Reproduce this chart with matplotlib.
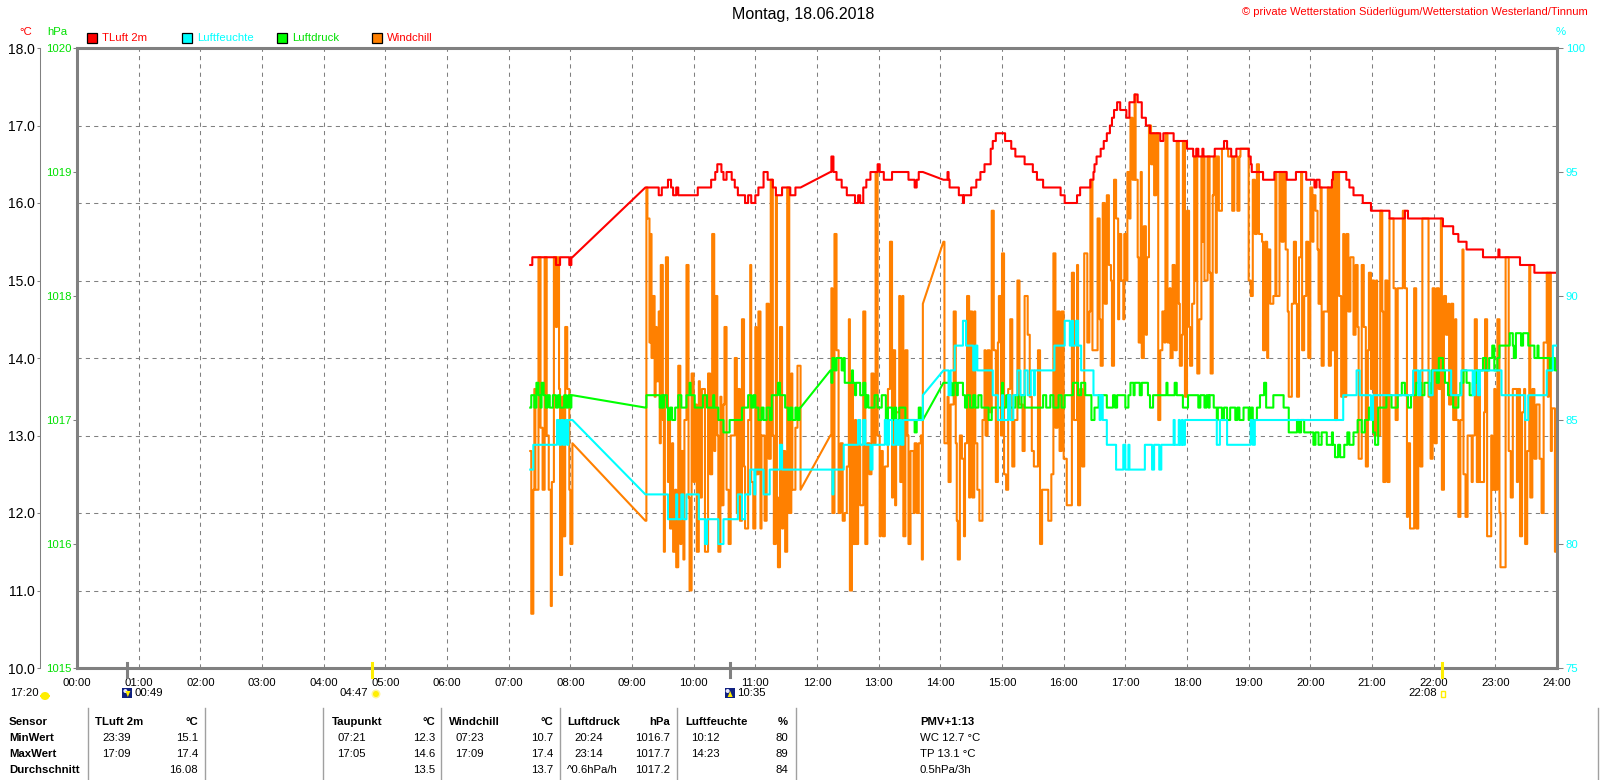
import matplotlib
matplotlib.use('Agg')
import matplotlib.pyplot as plt
from matplotlib.patches import Rectangle, Ellipse, Polygon
from matplotlib.lines import Line2D

# ---------------- data (minutes since midnight, value) ----------------
temp = [(441,15.2),(443,15.3),(466,15.2),(470,15.3),(479,15.2),(481,15.3),(482,15.3),
(553,16.2),(566,16.1),(569,16.2),(575,16.3),(578,16.2),(580,16.1),(583,16.2),(585,16.1),(604,16.2),(617,16.3),(621,16.4),(623,16.5),(627,16.4),(629,16.3),(632,16.4),(637,16.3),(640,16.2),(643,16.1),(650,16.0),(653,16.1),(656,16.0),(660,16.1),(663,16.2),(668,16.4),(672,16.3),(677,16.2),(680,16.1),(686,16.2),(694,16.1),(699,16.2),(704,16.2),
(733,16.4),(734,16.6),(736,16.4),(739,16.3),(744,16.2),(749,16.1),(757,16.0),(760,16.1),(762,16.0),(765,16.2),(768,16.3),(772,16.4),(779,16.5),(781,16.4),(785,16.3),(793,16.4),(809,16.3),(815,16.2),(817,16.3),(819,16.4),(823,16.4),
(843,16.3),(847,16.4),(848,16.3),(849,16.2),(858,16.1),(862,16.0),(863,16.1),(870,16.2),(875,16.3),(879,16.4),(883,16.5),(889,16.7),(891,16.8),(894,16.9),(903,16.8),(909,16.7),(913,16.6),(922,16.5),(930,16.4),(934,16.3),(940,16.2),(957,16.1),(961,16.0),(973,16.1),(976,16.2),(986,16.3),(989,16.4),(990,16.5),(992,16.6),(996,16.7),(999,16.8),(1002,16.9),(1005,17.0),(1007,17.1),(1009,17.2),(1012,17.3),(1015,17.2),(1021,17.1),(1024,17.3),(1029,17.4),(1032,17.3),(1036,17.1),(1040,17.0),(1044,16.9),(1054,16.8),(1057,16.9),(1067,16.8),(1080,16.7),(1086,16.6),(1089,16.7),(1091,16.6),(1095,16.7),(1096,16.6),(1107,16.7),(1116,16.8),(1119,16.7),(1123,16.6),(1128,16.7),(1140,16.6),(1142,16.5),(1143,16.4),(1154,16.3),(1165,16.4),(1177,16.3),(1186,16.4),(1196,16.3),(1204,16.2),(1206,16.3),(1209,16.2),(1221,16.3),(1222,16.4),(1235,16.3),(1238,16.2),(1242,16.1),(1251,16.0),(1259,15.9),(1277,15.8),(1292,15.9),(1295,15.8),(1329,15.7),(1339,15.6),(1344,15.5),(1352,15.4),(1368,15.3),(1383,15.4),(1384,15.3),(1404,15.2),(1418,15.1)]

windchill = [(441,12.8),(442,10.7),(444,12.3),(445,13.6),(446,12.3),(449,15.3),(451,13.1),(453,12.3),(455,15.3),(457,13.0),(459,12.3),(461,10.8),(462,12.4),(464,15.3),(466,14.4),(467,15.3),(469,13.6),(470,11.2),(472,13.5),(473,11.7),(475,14.4),(477,13.6),(479,12.3),(480,11.6),(482,12.9),
(553,11.9),(554,16.2),(555,15.8),(557,14.2),(558,15.6),(559,14.0),(560,14.8),(562,13.5),(563,14.4),(564,13.7),(566,14.6),(567,12.9),(568,15.2),(570,13.2),(571,11.5),(572,13.5),(573,15.3),(575,12.4),(576,13.2),(577,11.8),(579,12.9),(580,11.5),(582,12.3),(583,11.3),(585,13.9),(587,11.6),(588,12.8),(590,11.4),(591,13.2),(593,15.2),(595,12.2),(596,11.0),(598,13.8),(600,12.4),(601,13.4),(603,11.5),(605,13.7),(606,12.2),(608,13.6),(611,11.5),(614,13.8),(616,12.5),(618,15.6),(620,12.8),(621,14.8),(623,13.0),(624,11.5),(626,13.5),(627,12.1),(629,13.4),(630,14.4),(632,12.3),(634,11.6),(636,13.0),(640,14.0),(642,12.0),(643,13.6),(645,11.9),(647,14.5),(649,12.6),(650,11.8),(653,13.2),(655,15.2),(656,12.4),(658,11.8),(660,14.4),(661,12.5),(663,14.6),(665,11.8),(666,13.0),(669,11.9),(671,14.7),(673,12.7),(675,16.3),(677,13.0),(678,11.6),(680,16.1),(681,12.2),(682,11.3),(684,14.4),(686,11.8),(687,12.8),(689,11.5),(691,16.2),(693,12.0),(695,13.8),(696,12.3),(699,13.1),(701,13.9),(704,12.3),
(733,13.0),(734,14.9),(735,12.0),(737,15.6),(739,14.1),(741,12.0),(743,12.9),(745,11.9),(747,12.0),(749,12.6),(751,14.5),(752,11.0),(754,13.8),(755,11.6),(757,13.2),(758,11.6),(760,12.9),(762,12.1),(765,14.6),(767,11.6),(769,12.9),(771,12.5),(773,13.8),(775,12.9),(777,16.4),(779,13.0),(781,11.7),(782,12.8),(784,11.7),(786,12.6),(789,13.6),(791,15.5),(793,12.2),(794,14.1),(796,12.1),(797,13.3),(800,14.8),(801,12.4),(803,14.8),(804,11.7),(806,14.1),(808,13.0),(809,11.6),(811,12.8),(814,12.0),(815,12.9),(817,12.0),(819,12.9),(821,13.0),(822,11.4),(823,14.7),
(843,15.5),(844,12.9),(847,13.5),(848,12.4),(850,13.4),(853,14.6),(855,12.9),(856,11.9),(857,11.4),(859,13.0),(861,12.7),(863,11.7),(864,12.9),(866,14.8),(868,12.2),(869,14.6),(871,12.2),(873,14.6),(874,12.9),(876,12.3),(878,11.9),(881,13.2),(883,14.1),(884,13.0),(886,14.1),(888,13.3),(890,15.9),(892,14.1),(894,12.4),(896,14.2),(897,14.8),(899,13.0),(900,15.35),(902,12.5),(904,12.3),(906,13.6),(908,14.5),(910,12.6),(912,13.2),(915,15.0),(917,13.4),(920,12.8),(922,14.8),(925,14.3),(927,13.5),(929,12.8),(931,12.6),(935,14.1),(937,11.6),(939,12.3),(945,11.9),(948,12.5),(950,15.35),(952,13.1),(954,14.6),(956,12.8),(958,14.6),(960,12.7),(963,12.1),(968,15.1),(970,13.2),(973,15.2),(974,12.1),(976,13.6),(978,12.6),(980,15.35),(983,14.2),(985,14.6),(986,16.3),(988,14.1),
(993,15.8),(995,14.5),(996,13.9),(998,16.0),(1000,14.7),(1002,16.1),(1004,15.2),(1006,15.0),(1007,13.9),(1009,16.3),(1011,15.8),(1013,14.5),(1014,15.6),(1016,15.0),(1018,14.5),(1019,15.6),(1021,15.0),(1022,16.4),(1024,15.8),(1025,17.1),(1027,16.3),(1029,17.4),(1030,16.3),(1032,15.3),(1033,14.2),(1035,16.4),(1036,14.0),(1038,15.7),(1040,14.3),(1041,15.3),(1043,17.0),(1045,16.5),(1047,16.9),(1048,16.1),(1050,16.9),(1052,13.2),(1054,14.1),(1056,14.6),(1058,14.2),(1059,16.9),(1061,14.2),(1063,14.9),(1064,14.0),(1066,15.2),(1068,14.1),(1070,16.8),(1072,14.7),(1073,13.9),(1075,14.3),(1076,16.8),(1078,13.5),(1080,15.9),(1082,14.4),(1083,13.9),(1085,14.7),(1087,16.6),(1088,15.0),(1089,16.6),(1090,13.8),(1092,14.5),(1094,16.6),(1095,15.5),(1096,16.6),(1097,15.0),(1100,16.6),(1102,15.1),(1103,13.8),(1105,16.1),(1106,16.6),(1108,15.1),(1109,16.6),(1111,15.9),(1114,16.7),(1120,16.6),(1124,15.9),(1126,16.6),(1129,15.9),(1131,16.6),(1132,16.7),(1140,15.0),(1142,14.8),(1144,16.3),(1146,15.6),(1148,16.5),(1150,15.6),(1153,15.5),(1154,14.1),(1156,15.5),(1158,14.0),(1159,15.4),(1161,14.7),(1164,14.8),(1166,16.4),(1167,14.8),(1170,16.4),(1172,15.5),(1174,16.4),(1176,15.4),(1178,14.6),(1179,13.5),(1182,14.7),
(1184,15.5),(1186,14.7),(1187,13.5),(1189,15.3),(1191,16.4),(1192,14.1),(1194,14.8),(1196,15.5),(1198,14.0),(1200,16.2),(1202,15.5),(1203,16.1),(1205,15.9),(1207,15.4),(1208,14.7),(1210,16.2),(1211,13.9),(1213,14.6),(1217,16.2),(1218,13.9),(1220,16.2),(1221,14.1),(1223,16.4),(1224,13.2),(1226,16.4),(1228,14.8),(1230,13.5),(1232,15.6),(1233,13.5),(1235,15.6),(1237,14.6),(1239,15.3),(1242,14.3),(1244,15.2),(1246,14.4),(1247,12.7),(1250,15.2),(1252,14.4),(1254,12.6),(1256,14.1),(1257,15.1),(1259,13.6),(1260,15.0),(1262,13.0),(1264,15.0),(1265,13.0),(1268,15.9),(1270,14.6),(1271,12.4),(1273,15.0),(1275,12.4),(1277,15.8),(1281,14.9),(1283,13.2),(1285,14.9),(1290,15.9),(1292,14.9),(1294,11.95),(1295,12.9),(1297,11.8),(1301,14.9),(1303,11.8),(1305,13.5),(1307,12.6),(1309,15.8),(1315,13.5),(1317,12.7),(1319,14.9),(1321,12.9),(1323,14.9),(1325,13.6),(1327,15.8),(1328,12.3),(1330,14.8),(1332,14.3),(1334,14.7),(1335,13.4),(1337,14.7),(1339,13.2),(1341,14.5),(1342,13.2),(1344,11.95),(1346,13.2),(1348,15.4),(1349,12.5),(1351,11.95),(1353,13.0),(1357,12.4),(1358,13.0),(1360,14.5),(1362,12.4),(1364,13.6),(1365,12.4),(1369,13.3),(1370,14.5),(1372,11.7),(1376,13.0),(1377,12.3),(1379,13.6),(1380,12.3),(1382,14.5),(1384,12.0),(1385,11.3),(1390,15.3),(1393,12.8),(1395,12.2),(1397,13.6),(1401,12.4),(1402,13.6),(1404,11.7),(1406,13.3),(1408,13.6),(1409,11.6),(1411,12.8),(1413,15.2),(1414,12.2),(1416,13.6),(1418,12.7),(1420,13.4),(1423,12.7),(1425,12.0),(1427,14.2),(1430,15.1),(1431,13.5),(1432,15.1),(1434,12.8),(1435,13.35),(1438,11.5)]

pressure = [(441,1017.1),(442,1017.2),(445,1017.1),(447,1017.3),(449,1017.2),(451,1017.1),(452,1017.3),(454,1017.2),(456,1017.1),(458,1017.2),(460,1017.1),(463,1017.2),(466,1017.1),(468,1017.2),(470,1017.1),(474,1017.2),(476,1017.1),(478,1017.2),(480,1017.1),(481,1017.2),(482,1017.2),
(553,1017.1),(554,1017.2),(567,1017.1),(569,1017.2),(570,1017.1),(571,1017.2),(574,1017.1),(575,1017.0),(577,1017.1),(579,1017.0),(582,1017.1),(585,1017.2),(588,1017.1),(593,1017.2),(596,1017.3),(597,1017.2),(601,1017.1),(609,1017.2),(613,1017.1),(619,1017.2),(620,1017.1),(624,1017.0),(629,1016.9),(635,1017.0),(647,1017.1),(653,1017.2),(656,1017.1),(658,1017.2),(660,1017.1),(663,1017.0),(666,1017.1),(668,1017.0),(671,1017.1),(674,1017.0),(676,1017.2),(682,1017.3),(684,1017.2),(689,1017.1),(692,1017.0),(694,1017.1),(696,1017.0),(699,1017.1),(701,1017.0),(703,1017.1),(704,1017.1),
(733,1017.4),(734,1017.3),(735,1017.5),(737,1017.4),(739,1017.5),(744,1017.4),(746,1017.5),(747,1017.3),(754,1017.4),(755,1017.3),(757,1017.2),(758,1017.3),(762,1017.2),(765,1017.3),(767,1017.1),(768,1017.2),(770,1017.1),(776,1017.2),(779,1017.1),(783,1017.2),(787,1017.0),(789,1017.1),(793,1017.0),(795,1017.1),(797,1017.0),(800,1017.1),(806,1017.0),(815,1016.9),(817,1017.0),(819,1017.1),(821,1017.0),(823,1017.0),
(843,1017.3),(851,1017.2),(853,1017.3),(856,1017.2),(857,1017.3),(862,1017.2),(864,1017.1),(866,1017.2),(869,1017.1),(872,1017.2),(874,1017.1),(877,1017.2),(880,1017.1),(887,1017.0),(890,1017.1),(900,1017.3),(901,1017.1),(904,1017.2),(908,1017.1),(913,1017.2),(916,1017.1),(919,1017.2),(922,1017.1),(940,1017.2),(943,1017.1),(947,1017.2),(950,1017.1),(955,1017.2),(958,1017.1),(961,1017.2),(969,1017.3),(974,1017.2),(977,1017.3),(981,1017.2),(987,1017.0),(990,1017.1),(994,1017.2),(1002,1017.1),(1008,1017.2),(1010,1017.1),(1012,1017.2),(1020,1017.1),(1023,1017.2),(1025,1017.3),(1028,1017.2),(1029,1017.3),(1034,1017.2),(1036,1017.3),(1042,1017.2),(1044,1017.1),(1047,1017.2),(1060,1017.3),(1061,1017.2),(1068,1017.3),(1070,1017.2),(1076,1017.1),(1081,1017.2),(1091,1017.1),(1093,1017.2),(1097,1017.1),(1099,1017.2),(1101,1017.1),(1102,1017.2),(1106,1017.1),(1109,1017.0),(1110,1017.1),(1114,1017.0),(1116,1017.1),(1119,1017.0),(1122,1017.1),(1127,1017.0),(1129,1017.1),(1131,1017.0),(1135,1017.1),(1140,1017.0),(1142,1017.1),(1144,1017.0),(1148,1017.1),(1151,1017.2),(1155,1017.3),(1157,1017.1),(1164,1017.2),(1174,1017.1),(1179,1016.9),(1187,1017.0),(1189,1016.9),(1191,1017.0),(1194,1016.9),(1203,1016.8),(1205,1016.9),(1208,1016.8),(1211,1016.9),(1216,1016.8),(1221,1016.9),(1222,1016.8),(1224,1016.7),(1227,1016.8),(1229,1016.7),(1233,1016.8),(1236,1016.9),(1238,1016.8),(1242,1016.9),(1246,1017.0),(1250,1016.9),(1253,1017.0),(1257,1017.1),(1261,1016.9),(1263,1016.8),(1266,1017.1),(1274,1017.2),(1279,1017.1),(1285,1017.2),(1289,1017.3),(1292,1017.2),(1295,1017.1),(1298,1017.2),(1303,1017.3),(1308,1017.2),(1311,1017.3),(1316,1017.2),(1318,1017.4),(1323,1017.3),(1325,1017.5),(1329,1017.4),(1331,1017.3),(1334,1017.2),(1339,1017.1),(1344,1017.2),(1346,1017.3),(1349,1017.4),(1352,1017.3),(1355,1017.2),(1358,1017.3),(1362,1017.4),(1368,1017.5),(1371,1017.4),(1374,1017.5),(1377,1017.6),(1379,1017.4),(1382,1017.5),(1384,1017.6),(1394,1017.7),(1397,1017.6),(1398,1017.5),(1400,1017.7),(1405,1017.6),(1407,1017.7),(1412,1017.6),(1418,1017.5),(1421,1017.6),(1422,1017.5),(1433,1017.4),(1435,1017.5),(1438,1017.4)]

humidity = [(441,83),(444,84),(467,85),(469,84),(471,85),(473,84),(475,85),(477,84),(478,85),(482,85),
(553,82),(575,81),(583,82),(584,81),(588,82),(590,81),(593,82),(605,81),(611,80),(613,81),(624,80),(629,81),(643,82),(647,81),(650,82),(655,83),(659,82),(660,83),(668,82),(674,83),(684,84),(686,83),(704,83),
(733,83),(735,82),(736,83),(746,84),(760,85),(762,84),(765,85),(767,84),(772,83),(774,84),(786,85),(788,84),(790,85),(793,84),(796,85),(798,84),(800,85),(802,84),(804,85),(823,86),
(843,87),(848,86),(850,87),(854,88),(862,89),(865,88),(872,87),(874,88),(876,87),(891,86),(896,85),(900,86),(901,85),(906,86),(908,85),(911,86),(915,87),(918,86),(922,87),(925,86),(928,87),(931,86),(932,87),(951,88),(961,89),(966,88),(968,89),(969,88),(972,89),(974,88),(977,87),(989,86),(995,85),(996,86),(998,85),(1002,84),(1011,83),(1018,84),(1020,83),(1023,84),(1024,83),(1039,84),(1046,83),(1048,84),(1053,83),(1055,84),(1067,85),(1068,84),(1072,85),(1073,84),(1075,85),(1076,84),(1078,85),(1109,84),(1112,85),(1119,84),(1142,85),(1144,84),(1146,85),(1232,86),(1245,87),(1248,86),(1259,85),(1261,86),(1300,87),(1305,86),(1307,87),(1316,86),(1319,87),(1337,86),(1347,87),(1358,86),(1360,87),(1363,86),(1365,87),(1386,86),(1409,85),(1412,86),(1430,87),(1436,88)]

# data gaps (bridged with straight lines by the logger software)
gaps = [(482, 553), (704, 733), (823, 843)]

hour_labels = ["%02d:00" % h for h in range(25)]
temp_ticks = [10, 11, 12, 13, 14, 15, 16, 17, 18]
pres_ticks = [1015, 1016, 1017, 1018, 1019, 1020]
hum_ticks = [75, 80, 85, 90, 95, 100]

# sun / moon events (label, minute, kind)
events = [("00:49", 49, "moonset"), ("04:47", 287, "sunrise"),
          ("10:35", 635, "moonrise"), ("22:08", 1328, "sunset")]
day_length = "17:20"

table_cols = [
    ("TLuft 2m", "°C", ["23:39", "17:09", ""], ["15.1", "17.4", "16.08"]),
    ("Taupunkt", "°C", ["07:21", "17:05", ""], ["12.3", "14.6", "13.5"]),
    ("Windchill", "°C", ["07:23", "17:09", ""], ["10.7", "17.4", "13.7"]),
    ("Luftdruck", "hPa", ["20:24", "23:14", "^0.6hPa/h"], ["1016.7", "1017.7", "1017.2"]),
    ("Luftfeuchte", "%", ["10:12", "14:23", ""], ["80", "89", "84"]),
]
row_labels = ["Sensor", "MinWert", "MaxWert", "Durchschnitt"]
pmv_lines = ["PMV+1:13", "WC 12.7 °C", "TP 13.1 °C", "0.5hPa/3h"]

# ---------------- styling ----------------
RED, ORANGE, GREEN, CYAN = "#ff0000", "#ff8000", "#00ff00", "#00ffff"
GREEN_T = "#00e000"
YELLOW = "#ffee00"
GRAY = "#808080"
plt.rcParams['font.family'] = ['Liberation Sans', 'DejaVu Sans']
FS = 8.2

W, H = 1600, 780
fig = plt.figure(figsize=(W / 100, H / 100), dpi=100)
fig.patch.set_facecolor("white")

def fx(x): return x / W
def fy(y): return 1 - y / H

L, R, T, B = 77, 1557, 48, 668
ax = fig.add_axes([fx(L), fy(B), (R - L) / W, (B - T) / H])
ax.set_xlim(0, 1440)
ax.set_ylim(10, 18)
axp = ax.twinx()
axp.set_ylim(1015, 1020)
axh = ax.twinx()
axh.set_ylim(75, 100)

def step_path(pairs, end=1440):
    xs, ys = [pairs[0][0]], [pairs[0][1]]
    for (t0, v0), (t1, v1) in zip(pairs[:-1], pairs[1:]):
        if (t0, t1) in gaps:
            xs.append(t1); ys.append(v1)
        else:
            xs += [t1, t1]; ys += [v0, v1]
    xs.append(end); ys.append(pairs[-1][1])
    return xs, ys

LW = 1.5
x, y = step_path(windchill)
ax.plot(x, y, color=ORANGE, lw=LW, zorder=3)
x, y = step_path(temp)
ax.plot(x, y, color=RED, lw=LW, zorder=4)
x, y = step_path(pressure)
axp.plot(x, y, color=GREEN, lw=LW, zorder=3)
x, y = step_path(humidity)
axh.plot(x, y, color=CYAN, lw=LW, zorder=3)

# grid and axes
ax.set_xticks(range(0, 1441, 60))
ax.set_xticklabels(hour_labels, fontsize=FS)
ax.set_yticks(temp_ticks)
ax.set_yticklabels(["%.1f" % v for v in temp_ticks], fontsize=FS, color=RED)
ax.grid(True, color=GRAY, linestyle=(0, (4, 4)), linewidth=0.75)
ax.set_axisbelow(True)
ax.tick_params(axis='x', length=0, pad=7)
ax.tick_params(axis='y', length=2.2, width=0.75, color=GRAY, pad=1.5)
for s in ("top", "right", "bottom"):
    ax.spines[s].set_visible(False)
ax.spines["left"].set_position(("outward", 26.6))
ax.spines["left"].set_color(GRAY)
ax.spines["left"].set_linewidth(0.75)

axp.yaxis.tick_left()
axp.set_yticks(pres_ticks)
axp.set_yticklabels([str(v) for v in pres_ticks], fontsize=FS, color=GREEN_T)
axp.tick_params(axis='y', length=2.9, width=0.75, color=GRAY, pad=1)
for s in axp.spines.values():
    s.set_color(GRAY)
    s.set_linewidth(2.2)

axh.set_yticks(hum_ticks)
axh.set_yticklabels([str(v) for v in hum_ticks], fontsize=FS, color=CYAN)
axh.tick_params(axis='y', length=4.3, width=0.75, color=GRAY, pad=2)
for s in axh.spines.values():
    s.set_visible(False)

# ---------------- header ----------------
fig.text(fx(803), fy(15), "Montag, 18.06.2018", ha="center", va="center", fontsize=11.5)
fig.text(fx(1588), fy(12), "© private Wetterstation Süderlügum/Wetterstation Westerland/Tinnum",
         ha="right", va="center", fontsize=8, color=RED)
fig.text(fx(26), fy(32), "°C", ha="center", va="center", fontsize=FS, color=RED)
fig.text(fx(57), fy(32), "hPa", ha="center", va="center", fontsize=FS, color=GREEN_T)
fig.text(fx(1561), fy(32), "%", ha="center", va="center", fontsize=FS, color=CYAN)

legend = [("TLuft 2m", RED, RED, 87), ("Luftfeuchte", CYAN, CYAN, 182),
          ("Luftdruck", GREEN, GREEN_T, 277), ("Windchill", ORANGE, RED, 372)]
for name, fc, tc, lx in legend:
    fig.add_artist(Rectangle((fx(lx), fy(43)), 10 / W, 10 / H, facecolor=fc,
                             edgecolor="black", lw=0.9, transform=fig.transFigure))
    fig.text(fx(lx + 15), fy(38), name, ha="left", va="center", fontsize=FS, color=tc)

# ---------------- sun / moon events ----------------
def xpix(minute):
    return ax.transData.transform((minute, 10))[0]

def dot(xc, yc, d, fc, ec="none", lw=0):
    fig.add_artist(Ellipse((fx(xc), fy(yc)), d / W, d / H, facecolor=fc, edgecolor=ec,
                           lw=lw, transform=fig.transFigure))

fig.text(fx(10), fy(693), day_length, ha="left", va="center", fontsize=FS)
fig.add_artist(Ellipse((fx(45), fy(696)), 9 / W, 8 / H, facecolor=YELLOW, edgecolor="none",
                       transform=fig.transFigure))
fig.add_artist(Rectangle((fx(40), fy(697)), 10 / W, 2 / H, facecolor=YELLOW, edgecolor="none",
                         transform=fig.transFigure))
for lab, m, kind in events:
    xp = xpix(m)
    tick_col = GRAY if kind.startswith("moon") else YELLOW
    fig.add_artist(Line2D([fx(xp), fx(xp)], [fy(663), fy(677)], color=tick_col, lw=2.2,
                          transform=fig.transFigure))
    if kind.startswith("moon"):
        ix = xp - 5
        fig.add_artist(Rectangle((fx(ix), fy(698)), 10 / W, 10 / H, facecolor="#102080",
                                 edgecolor="none", transform=fig.transFigure))
        dot(ix + 3, 691, 4, "#e8e8ff")
        if kind == "moonset":
            tri = [(ix + 3, 691), (ix + 8, 691), (ix + 5.5, 697)]
        else:
            tri = [(ix + 3, 697), (ix + 8, 697), (ix + 5.5, 691)]
        fig.add_artist(Polygon([(fx(a), fy(b)) for a, b in tri], closed=True,
                               facecolor=YELLOW, edgecolor="none", transform=fig.transFigure))
        fig.text(fx(ix + 12), fy(693), lab, ha="left", va="center", fontsize=FS)
    elif kind == "sunrise":
        dot(xp + 4, 694, 9, "#fff59a")
        dot(xp + 4, 694, 6, YELLOW)
        fig.text(fx(xp - 4), fy(693), lab, ha="right", va="center", fontsize=FS)
    else:
        fig.add_artist(Rectangle((fx(xp - 1), fy(697)), 4 / W, 6 / H, facecolor="none",
                                 edgecolor=YELLOW, lw=1, transform=fig.transFigure))
        fig.text(fx(xp - 5), fy(693), lab, ha="right", va="center", fontsize=FS)

# ---------------- statistics table ----------------
rows_y = [722, 738, 754, 770]
for sx in [88, 205, 323, 441, 560, 677, 796, 1598]:
    fig.add_artist(Line2D([fx(sx), fx(sx)], [fy(708), fy(780)], color="#a0a0a0", lw=1,
                          transform=fig.transFigure))
for i, lab in enumerate(row_labels):
    fig.text(fx(9), fy(rows_y[i]), lab, ha="left", va="center", fontsize=FS, fontweight="bold")

col_x = [(95, 102, 198), (332, 337, 435), (449, 455, 553), (567, 574, 670), (685, 691, 788)]
for (name, unit, times, vals), (hx, tx, vx) in zip(table_cols, col_x):
    fig.text(fx(hx), fy(rows_y[0]), name, ha="left", va="center", fontsize=FS, fontweight="bold")
    fig.text(fx(vx), fy(rows_y[0]), unit, ha="right", va="center", fontsize=FS, fontweight="bold")
    for j in range(3):
        if times[j]:
            txx = tx if times[j][0] != "^" else hx
            fig.text(fx(txx), fy(rows_y[j + 1]), times[j], ha="left", va="center", fontsize=FS)
        fig.text(fx(vx), fy(rows_y[j + 1]), vals[j], ha="right", va="center", fontsize=FS)

for j, line in enumerate(pmv_lines):
    fig.text(fx(920), fy(rows_y[j]), line, ha="left", va="center", fontsize=FS,
             fontweight="bold" if j == 0 else "normal")

fig.savefig("out.png", dpi=100, facecolor="white")
